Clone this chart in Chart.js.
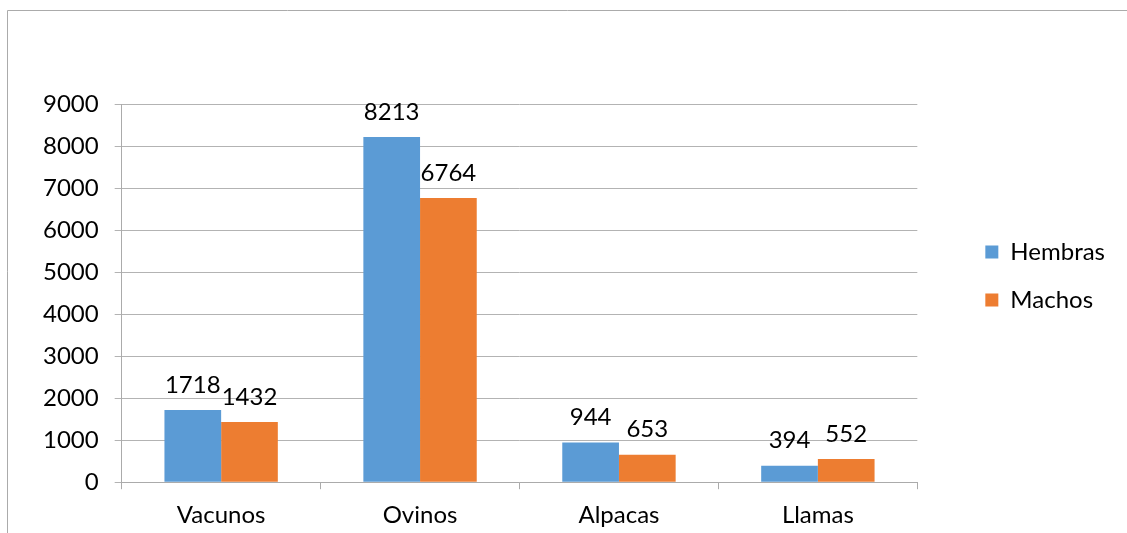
<!DOCTYPE html>
<html>
<head>
<meta charset="utf-8">
<script src="https://cdn.jsdelivr.net/npm/chart.js@4"></script>
<style>
  html, body { margin: 0; padding: 0; background: #fff; }
  #wrap { width: 1127px; height: 533px; }
</style>
</head>
<body>
<div id="wrap"><canvas id="ganado-chart"></canvas></div>
<script>
const categories = ['Vacunos', 'Ovinos', 'Alpacas', 'Llamas'];
const hembras = [1718, 8213, 944, 394];
const machos = [1432, 6764, 653, 552];
const yTicks = [0, 1000, 2000, 3000, 4000, 5000, 6000, 7000, 8000, 9000];

const FONT = 'Lato, "Noto Sans", sans-serif';

// value labels above each bar
const valueLabels = {
    id: 'valueLabels',
    afterDatasetsDraw(chart) {
        const ctx = chart.ctx;
        ctx.save();
        ctx.font = '24px ' + FONT;
        ctx.fillStyle = '#000';
        ctx.textAlign = 'center';
        ctx.textBaseline = 'middle';
        chart.data.datasets.forEach((ds, i) => {
            chart.getDatasetMeta(i).data.forEach((bar, j) => {
                ctx.fillText(ds.data[j], bar.x, bar.y - 25);
            });
        });
        ctx.restore();
    }
};

// outer frame of the chart
const frame = {
    id: 'frame',
    beforeDraw(chart) {
        const ctx = chart.ctx;
        ctx.save();
        ctx.strokeStyle = '#ababab';
        ctx.lineWidth = 1;
        ctx.beginPath();
        ctx.moveTo(7.5, chart.height);
        ctx.lineTo(7.5, 10.5);
        ctx.lineTo(chart.width, 10.5);
        ctx.stroke();
        ctx.restore();
    }
};

const ctx = document.getElementById('ganado-chart').getContext('2d');

new Chart(ctx, {
    type: 'bar',
    data: {
        labels: categories,
        datasets: [
            { label: 'Hembras', data: hembras, backgroundColor: '#5B9BD5' },
            { label: 'Machos', data: machos, backgroundColor: '#ED7D31' }
        ]
    },
    options: {
        responsive: true,
        maintainAspectRatio: false,
        animation: false,
        layout: { padding: { top: 104, left: 27, right: 12, bottom: -9 } },
        datasets: {
            bar: { categoryPercentage: 0.57, barPercentage: 1.0 }
        },
        scales: {
            x: {
                grid: { drawOnChartArea: false, tickLength: 7, color: '#ababab', offset: true },
                border: { color: '#ababab' },
                ticks: { color: '#000', font: { family: FONT, size: 24 }, padding: 12 }
            },
            y: {
                min: 0,
                max: 9000,
                afterBuildTicks(axis) { axis.ticks = yTicks.map(v => ({ value: v })); },
                grid: { color: '#b3b3b3', tickLength: 7 },
                border: { color: '#ababab' },
                ticks: {
                    color: '#000',
                    font: { family: FONT, size: 24 },
                    padding: 16,
                    callback: v => String(v)
                }
            },
            // empty spacer between plot and legend
            gap: {
                position: 'right',
                grid: { display: false },
                border: { display: false },
                ticks: { display: false },
                afterFit(axis) { axis.width = 44; }
            }
        },
        plugins: {
            legend: {
                position: 'right',
                align: 'start',
                title: { display: true, text: '', font: { size: 10 }, padding: { top: 100, bottom: 0 } },
                labels: {
                    color: '#000',
                    font: { family: FONT, size: 24 },
                    boxWidth: 13,
                    boxHeight: 13,
                    padding: 24
                }
            },
            tooltip: { enabled: false }
        }
    },
    plugins: [valueLabels, frame]
});
</script>
</body>
</html>
